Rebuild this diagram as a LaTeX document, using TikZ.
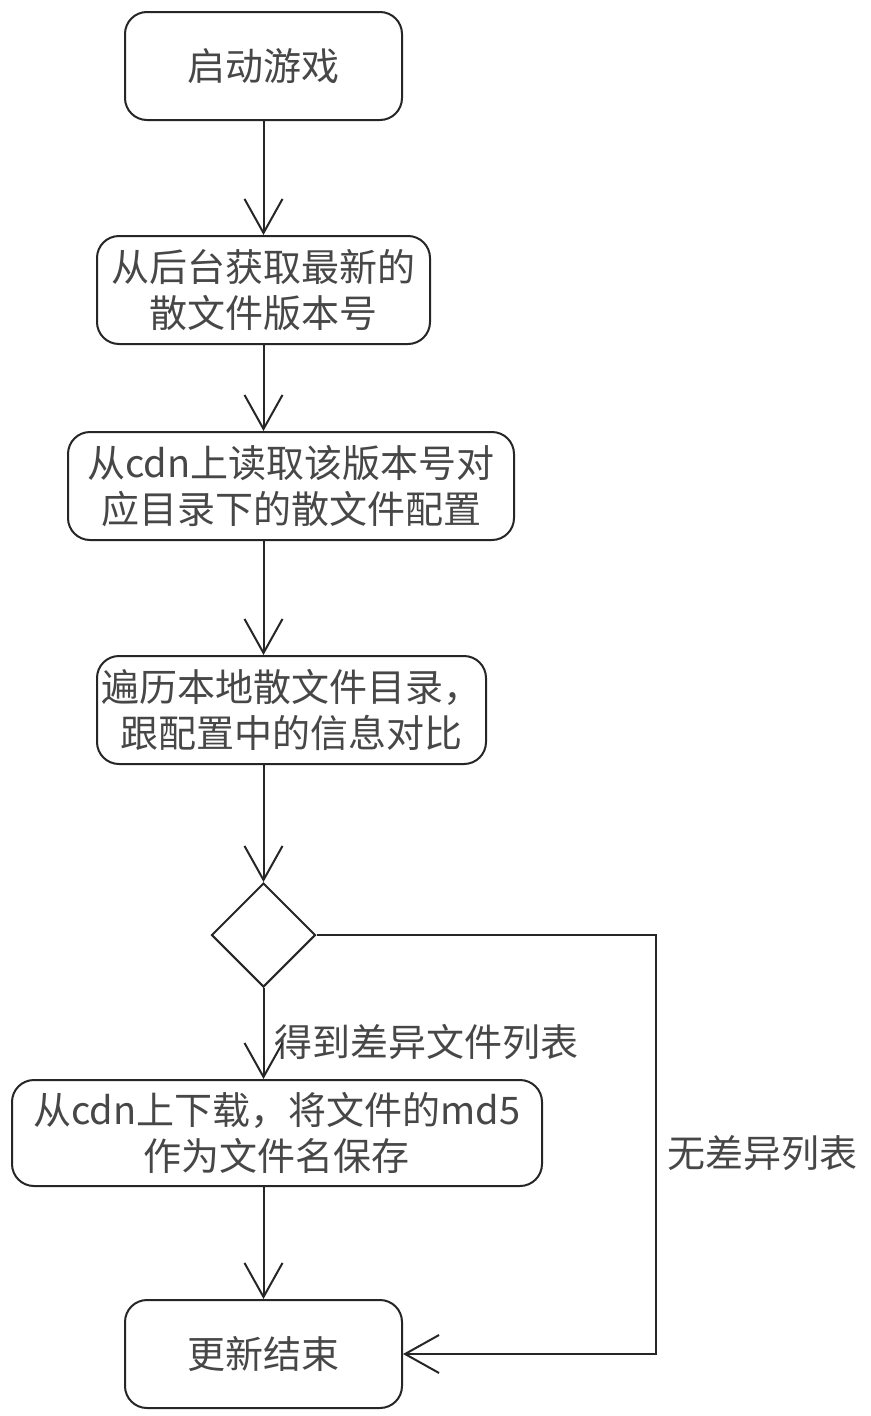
\documentclass[tikz,border=0pt]{standalone}
\usepackage{fontspec}
\setmainfont{Noto Sans CJK SC}
\usetikzlibrary{shapes.geometric,arrows.meta}
\begin{document}
\begin{tikzpicture}[x=1pt,y=-1pt,
 box/.style={draw=black!85,line width=2pt,rounded corners=22pt,inner sep=0pt,align=center,text=black!72,font=\fontsize{38}{46}\selectfont},
 dia/.style={diamond,draw=black!85,line width=2pt,inner sep=0pt,minimum width=104pt,minimum height=104pt},
 arr/.style={line width=2pt,draw=black!85,-{Straight Barb[length=34pt,width=38pt,line width=2pt]}},
 lbl/.style={text=black!72,font=\fontsize{38}{46}\selectfont,inner sep=0pt,anchor=west}]
\path[use as bounding box, fill=white] (0,0) rectangle (870,1416);
\node[box,minimum width=277pt,minimum height=108pt] (n1) at (263.5,66) {启动游戏};
\node[box,minimum width=333pt,minimum height=108pt] (n2) at (263.5,290) {从后台获取最新的\\散文件版本号};
\node[box,minimum width=446pt,minimum height=108pt] (n3) at (291,486) {从cdn上读取该版本号对\\应目录下的散文件配置};
\node[box,minimum width=389pt,minimum height=108pt] (n4) at (291.5,710) {遍历本地散文件目录，\\跟配置中的信息对比};
\node[dia] (d) at (263.5,935) {};
\node[box,minimum width=530pt,minimum height=106pt] (n6) at (277,1133) {从cdn上下载，将文件的md5\\作为文件名保存};
\node[box,minimum width=277pt,minimum height=108pt] (n7) at (263.5,1354) {更新结束};
\coordinate (c) at (656,935);
\node[lbl] (l1) at (274,1042) {得到差异文件列表};
\node[lbl] (l2) at (667,1153) {无差异列表};
\draw[arr] (n1.south) -- (n2.north);
\draw[arr] (n2.south) -- (n2.south |- n3.north);
\draw[arr] (n2.south |- n3.south) -- (n2.south |- n4.north);
\draw[arr] (n2.south |- n4.south) -- (d.north);
\draw[arr] (d.south) -- (d.south |- n6.north);
\draw[arr] (d.south |- n6.south) -- (n7.north);
\draw[arr] (d.east) -- (c) |- (n7.east);
\end{tikzpicture}
\end{document}
